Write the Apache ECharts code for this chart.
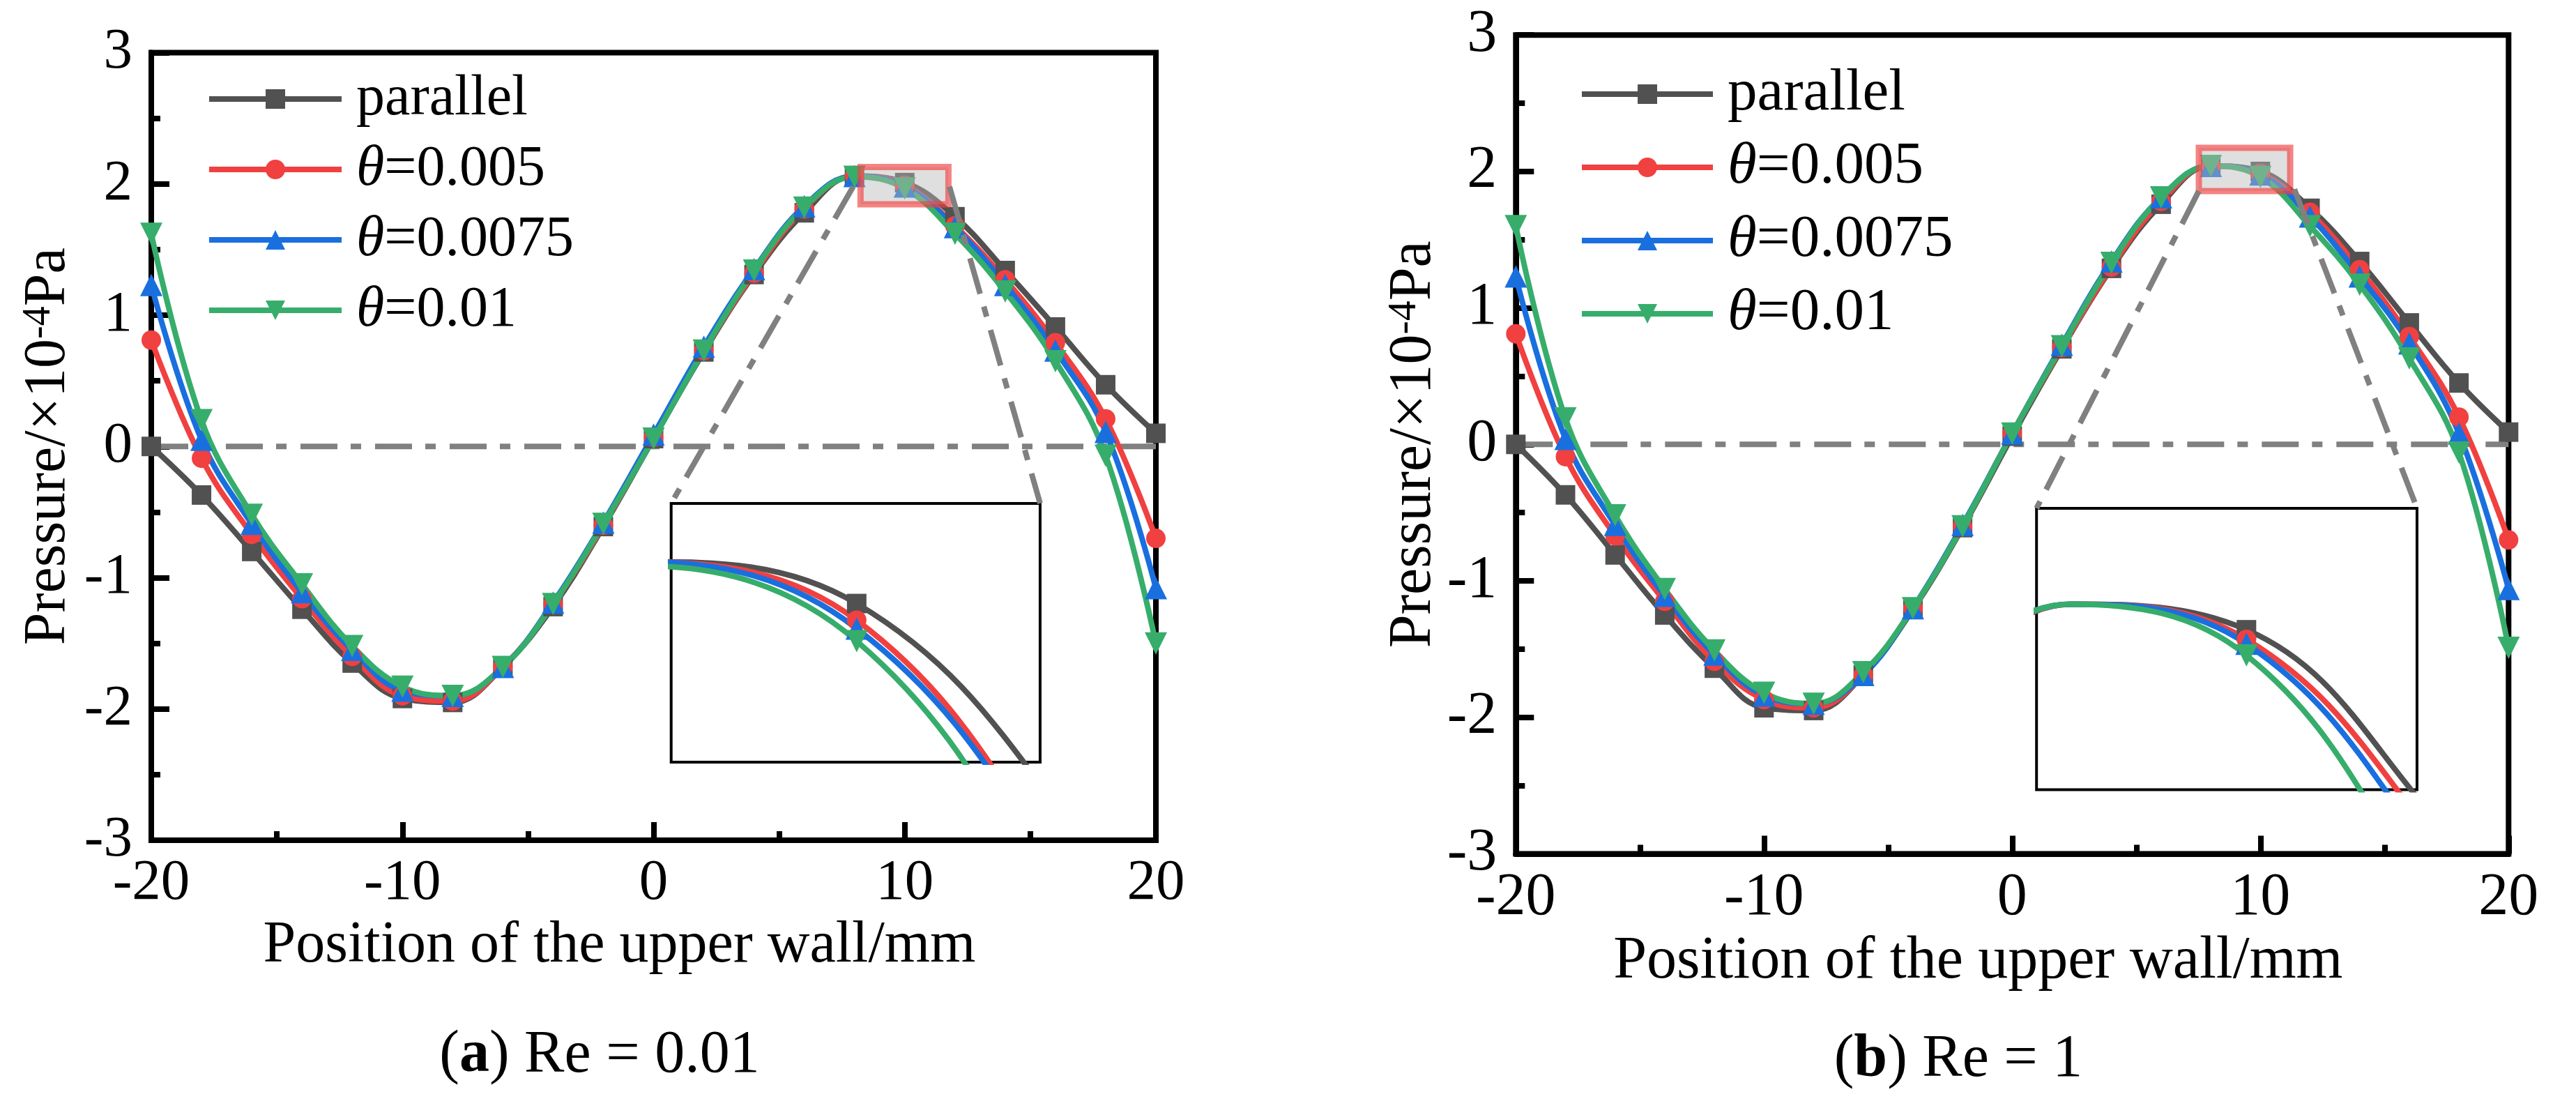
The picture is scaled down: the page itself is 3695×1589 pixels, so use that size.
<!DOCTYPE html>
<html>
<head>
<meta charset="utf-8">
<script src="https://cdn.jsdelivr.net/npm/echarts@6/dist/echarts.min.js"></script>
<style>
  html, body { margin: 0; padding: 0; background: #fff; }
  #chart { width: 3695px; height: 1589px; }
</style>
</head>
<body>
<div id="chart"></div>
<script>
// positions along the upper wall (mm), one marker every 2 mm
const X_POS = [-20, -18, -16, -14, -12, -10, -8, -6, -4, -2, 0, 2, 4, 6, 8, 10, 12, 14, 16, 18, 20];
const SERIES_NAMES = ['parallel', 'θ=0.005', 'θ=0.0075', 'θ=0.01'];
const X_TITLE = 'Position of the upper wall/mm';
const Y_TITLE = 'Pressure/×10{sup|-4}Pa';

// (a) Re = 0.01
const A_PARALLEL = [0.00, -0.37, -0.80, -1.24, -1.65, -1.92, -1.95, -1.68, -1.22, -0.61, 0.06, 0.72, 1.31, 1.78, 2.06, 2.01, 1.75, 1.34, 0.91, 0.47, 0.10];
const A_T005 = [0.81, -0.09, -0.67, -1.16, -1.60, -1.90, -1.94, -1.68, -1.20, -0.60, 0.07, 0.73, 1.32, 1.81, 2.06, 1.99, 1.68, 1.27, 0.79, 0.21, -0.70];
const A_T0075 = [1.23, 0.05, -0.59, -1.11, -1.55, -1.86, -1.90, -1.68, -1.19, -0.58, 0.09, 0.76, 1.35, 1.83, 2.06, 1.98, 1.67, 1.23, 0.73, 0.11, -1.08];
const A_T01 = [1.62, 0.20, -0.52, -1.05, -1.52, -1.83, -1.90, -1.68, -1.20, -0.59, 0.06, 0.73, 1.34, 1.82, 2.055, 1.965, 1.62, 1.18, 0.65, -0.07, -1.50];

// (b) Re = 1
const B_PARALLEL = [0.00, -0.37, -0.81, -1.25, -1.64, -1.93, -1.95, -1.69, -1.21, -0.61, 0.06, 0.70, 1.29, 1.76, 2.04, 2.00, 1.73, 1.34, 0.89, 0.45, 0.09];
const B_T005 = [0.81, -0.09, -0.67, -1.15, -1.59, -1.87, -1.93, -1.69, -1.20, -0.60, 0.08, 0.71, 1.30, 1.78, 2.04, 1.985, 1.70, 1.28, 0.79, 0.20, -0.70];
const B_T0075 = [1.23, 0.04, -0.59, -1.11, -1.54, -1.84, -1.90, -1.69, -1.20, -0.59, 0.08, 0.73, 1.34, 1.81, 2.04, 1.978, 1.67, 1.23, 0.74, 0.08, -1.06];
const B_T01 = [1.60, 0.19, -0.52, -1.06, -1.51, -1.82, -1.90, -1.67, -1.20, -0.60, 0.08, 0.72, 1.33, 1.81, 2.04, 1.96, 1.60, 1.17, 0.63, -0.06, -1.49];

const X_MIN = -20, X_MAX = 20, Y_MIN = -3, Y_MAX = 3;

const FONT = 'Liberation Serif';
const COLORS = ['#515151', '#F14040', '#1A6FDF', '#37AD6B'];
const SYMBOLS = ['rect', 'circle', 'triangle', 'path://M0,0L10,0L5,8.66Z'];
const SYMBOL_SIZES = [28, 28, 32, 32];
const LINE_W = 8;
const DASH_DOT = [53, 19, 15, 20];
const SMOOTH = 0.4;

const PANELS = [
  {
    values: [A_PARALLEL, A_T005, A_T0075, A_T01],
    caption: '({b|a}) Re = 0.01', captionAt: [860, 1514],
    box: { left: 217, top: 75.5, width: 1441, height: 1129.5 },
    tickFont: 83, titleFont: 84, legendFont: 82,
    xNameGap: 110, yNameGap: 105,
    legend: { left: 296, rowY: 142, itemWidth: 190, step: 101 },
    inset: { x: [0.7, 15.39], y: [-2.405, -0.434] },
    zoomX: [8.24, 11.74], zoomY: [1.82, 2.13],
    rect: { x: [8.24, 11.74], y: [1.845, 2.129] },
    links: [[7.95, 1.98], [11.78, 1.98]]
  },
  {
    values: [B_PARALLEL, B_T005, B_T0075, B_T01],
    caption: '({b|b}) Re = 1', captionAt: [2809, 1520],
    box: { left: 2174.3, top: 50.2, width: 1424, height: 1174.2 },
    tickFont: 86, titleFont: 86, legendFont: 85,
    xNameGap: 112, yNameGap: 95,
    legend: { left: 2265, rowY: 135, itemWidth: 188, step: 105 },
    inset: { x: [0.98, 16.31], y: [-2.53, -0.468] },
    zoomX: [7.6, 11.95], zoomY: [1.75, 2.19],
    rect: { x: [7.52, 11.2], y: [1.857, 2.173] },
    links: [[7.52, 1.857], [11.37, 1.87]]
  }
];

function px(p, x) { return p.box.left + (x - X_MIN) / (X_MAX - X_MIN) * p.box.width; }
function py(p, y) { return p.box.top + (Y_MAX - y) / (Y_MAX - Y_MIN) * p.box.height; }

const option = {
  animation: false,
  backgroundColor: '#fff',
  textStyle: { fontFamily: FONT, color: '#000' },
  grid: [], xAxis: [], yAxis: [], series: [], legend: [], graphic: []
};

PANELS.forEach((p, i) => {
  const g = i * 2;

  // main plot box
  option.grid.push({
    left: p.box.left, top: p.box.top, width: p.box.width, height: p.box.height,
    show: true, borderColor: '#000', borderWidth: 8, backgroundColor: 'transparent',
    containLabel: false, outerBoundsMode: 'none'
  });
  // zoomed inset box
  const ix0 = px(p, p.inset.x[0]), ix1 = px(p, p.inset.x[1]);
  const iy0 = py(p, p.inset.y[1]), iy1 = py(p, p.inset.y[0]);
  option.grid.push({
    left: ix0, top: iy0, width: ix1 - ix0, height: iy1 - iy0,
    show: true, borderColor: '#000', borderWidth: 4, backgroundColor: '#fff',
    containLabel: false, outerBoundsMode: 'none'
  });

  const tick = { show: true, inside: true, length: 26, lineStyle: { color: '#000', width: 8 } };
  const minor = { show: true, splitNumber: 2, length: 13, lineStyle: { color: '#000', width: 8 } };
  const line = { show: true, onZero: false, lineStyle: { color: '#000', width: 8 } };

  option.xAxis.push({
    gridIndex: g, type: 'value', min: X_MIN, max: X_MAX, interval: 10,
    name: X_TITLE, nameLocation: 'middle', nameGap: p.xNameGap,
    nameTextStyle: { fontFamily: FONT, fontSize: p.titleFont, color: '#000', padding: [0, 98, 0, 0] },
    axisLine: line, axisTick: tick, minorTick: minor,
    splitLine: { show: false }, minorSplitLine: { show: false },
    axisLabel: { margin: 21, fontFamily: FONT, fontSize: p.tickFont, color: '#000' }
  });
  option.yAxis.push({
    gridIndex: g, type: 'value', min: Y_MIN, max: Y_MAX, interval: 1,
    name: Y_TITLE, nameLocation: 'middle', nameGap: p.yNameGap,
    nameTextStyle: {
      fontFamily: FONT, fontSize: p.titleFont, color: '#000',
      rich: { sup: { fontFamily: FONT, fontSize: Math.round(p.titleFont * 0.67), lineHeight: 32, verticalAlign: 'top', color: '#000' } }
    },
    axisLine: line, axisTick: tick, minorTick: minor,
    splitLine: { show: false }, minorSplitLine: { show: false },
    axisLabel: { margin: 27, fontFamily: FONT, fontSize: p.tickFont, color: '#000' }
  });
  option.xAxis.push({ gridIndex: g + 1, type: 'value', min: p.zoomX[0], max: p.zoomX[1], show: false });
  option.yAxis.push({ gridIndex: g + 1, type: 'value', min: p.zoomY[0], max: p.zoomY[1], show: false });

  // y = 0 reference line, zoom rectangle and the two connectors
  option.series.push({
    type: 'line', name: 'zero-' + i, xAxisIndex: g, yAxisIndex: g,
    data: [[X_MIN, 0], [X_MAX, 0]], symbol: 'none', silent: true, clip: false,
    lineStyle: { color: '#808080', width: LINE_W, type: DASH_DOT },
    markArea: {
      silent: true, z: 4,
      itemStyle: { color: 'rgba(185,185,185,0.45)', borderColor: 'rgba(241,64,64,0.65)', borderWidth: 9 },
      data: [[{ xAxis: p.rect.x[0], yAxis: p.rect.y[1] }, { xAxis: p.rect.x[1], yAxis: p.rect.y[0] }]]
    },
    markLine: {
      silent: true, symbol: ['none', 'none'], label: { show: false },
      lineStyle: { color: '#808080', width: LINE_W, type: DASH_DOT },
      data: [
        [{ coord: p.links[0] }, { coord: [p.inset.x[0], p.inset.y[1]] }],
        [{ coord: p.links[1] }, { coord: [p.inset.x[1], p.inset.y[1]] }]
      ]
    }
  });

  [g, g + 1].forEach((ax, k) => {
    p.values.forEach((vals, s) => {
      const size = SYMBOL_SIZES[s];
      option.series.push({
        type: 'line', name: SERIES_NAMES[s], xAxisIndex: ax, yAxisIndex: ax,
        data: X_POS.map((x, j) => [x, vals[j]]),
        smooth: SMOOTH, clip: k === 1,
        symbol: SYMBOLS[s],
        // inside the zoom only the markers well inside the window are drawn
        symbolSize: k === 0 ? size : (v => (v[0] > p.zoomX[0] + 1 && v[0] < p.zoomX[1] - 1 ? size : 0)),
        lineStyle: { color: COLORS[s], width: LINE_W },
        itemStyle: { color: COLORS[s] }
      });
    });
  });

  const lh = p.legendFont;
  option.legend.push({
    orient: 'vertical', left: p.legend.left, top: p.legend.rowY - lh / 2, padding: 0,
    itemWidth: p.legend.itemWidth, itemHeight: 35, itemGap: p.legend.step - lh,
    selectedMode: false, data: SERIES_NAMES,
    lineStyle: { width: LINE_W },
    formatter: n => n.replace('θ', '{i|θ}'),
    textStyle: {
      fontFamily: FONT, fontSize: p.legendFont, color: '#000', lineHeight: lh, padding: [0, 0, 0, 16],
      rich: { i: { fontFamily: FONT, fontStyle: 'italic', fontSize: p.legendFont, lineHeight: lh, color: '#000' } }
    }
  });

  option.graphic.push({
    type: 'text', x: p.captionAt[0], y: p.captionAt[1], silent: true,
    style: {
      text: p.caption, fontFamily: FONT, fontSize: 86, fill: '#000', align: 'center', verticalAlign: 'middle',
      rich: { b: { fontFamily: FONT, fontSize: 86, fontWeight: 'bold', fill: '#000' } }
    }
  });
});

const chart = echarts.init(document.getElementById('chart'));
chart.setOption(option);
</script>
</body>
</html>
